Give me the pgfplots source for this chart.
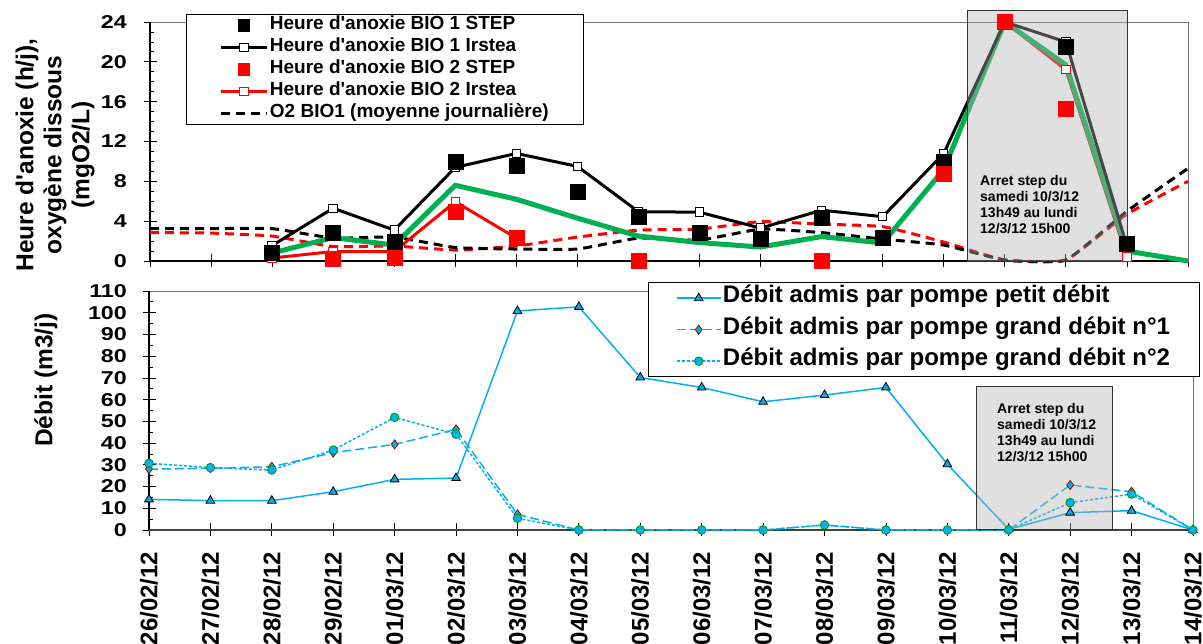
\documentclass[border=0pt]{standalone}
\usepackage{pgfplots}
\pgfplotsset{compat=1.18}
\usepackage{fontspec}
\setmainfont{Liberation Sans}
\newfontfamily\tickfont[FakeStretch=1.25]{Liberation Sans Bold}
\definecolor{vert}{HTML}{00B050}
\definecolor{bleu}{HTML}{00B0F0}
\definecolor{bleumark}{HTML}{12A6DE}
\definecolor{bordeaux}{HTML}{A00000}
\definecolor{vertc}{HTML}{009A00}

\pgfplotsset{
  commun/.style={
    scale only axis, xmin=0, xmax=17, clip=false,
    unbounded coords=jump,
    axis line style={draw=black!55, line width=0.8pt},
    tick pos=left, tick align=center,
    major tick length=13pt, minor tick length=4pt,
    tick style={black, line width=0.8pt},
    minor y tick style={xshift=2pt},
    xtick={0,...,17},
    yticklabels={},
  },
}
\tikzset{etiq/.style={anchor=east, inner sep=0pt, font=\tickfont\fontsize{18.6}{20}\selectfont}}

\begin{document}
\begin{tikzpicture}
\path[use as bounding box] (0pt,0pt) rectangle (1203pt,644pt);

% ---- graphe du haut : heures d'anoxie et O2
\begin{axis}[commun,
  at={(150pt,383pt)}, anchor=south west, width=1038pt, height=239pt,
  ymin=0, ymax=24, ytick={0,4,...,24}, minor y tick num=3,
  xticklabels={},
  legend image code/.code={\draw[mark repeat=2,mark phase=2,#1] plot coordinates {(0pt,0pt) (23pt,0pt) (46pt,0pt)};},
  legend style={at={(0.0347,1.0335)}, anchor=north west, draw=black, line width=0.9pt, fill=white,
    font=\fontsize{19}{21}\selectfont\bfseries, inner xsep=33pt, inner ysep=0pt,
    nodes={inner sep=1.5pt, text height=14pt, text depth=5pt}},
  legend cell align=left,
]
\draw[black, line width=1.6pt] (axis cs:0,24) -- (axis cs:0,0) -- (axis cs:17,0);
\pgfplotsinvokeforeach{0,4,8,12,16,20,24}{\node[etiq] at ([xshift=-23pt]axis cs:0,#1) {#1};}

% O2 BIO2 (pointilles rouges)
\addplot[red, line width=3pt, dash pattern=on 9pt off 6pt, smooth, tension=0.25, forget plot] coordinates {
(0,2.85) (1,2.8) (2,2.5) (3,1.45) (4,1.5) (5,1.1) (6,1.5) (7,2.4) (8,3.1) (9,3.2)
(10,3.95) (11,3.7) (12,3.45) (13,1.9) (14,0.1) (15,0.1) (16,4.7) (17,8.0)};
% O2 BIO1 (pointilles noirs)
\addplot[black, line width=3pt, dash pattern=on 9pt off 6pt, smooth, tension=0.25, forget plot] coordinates {
(0,3.25) (1,3.25) (2,3.25) (3,2.3) (4,2.4) (5,1.35) (6,1.2) (7,1.2) (8,2.3) (9,2.1)
(10,3.2) (11,2.85) (12,2.2) (13,1.6) (14,0.1) (15,0.1) (16,5.0) (17,9.3)};
% BIO 2 Irstea
\addplot[red, line width=3pt, mark=square*, mark size=4.2pt, mark options={fill=white, line width=1pt}, forget plot] coordinates {
(2,0.3) (3,0.95) (4,0.95) (5,5.95) (6,2.3) (7,nan) (13,9.2) (14,24) (15,19.2) (16,0.4)};
% courbe verte
\addplot[vert, line width=5pt, forget plot] coordinates {
(2,0.8) (3,2.35) (4,1.6) (5,7.6) (6,6.2) (7,4.3) (8,2.5) (9,1.85) (10,1.4)
(11,2.45) (12,1.8) (13,9.2) (14,24) (15,19.7) (16,1.0) (17,0)};
% BIO 1 Irstea
\addplot[black, line width=3pt, mark=square*, mark size=4.2pt, mark options={fill=white, line width=1pt}, forget plot] coordinates {
(2,1.55) (3,5.3) (4,3.1) (5,9.4) (6,10.8) (7,9.5) (8,4.95) (9,4.9) (10,3.3)
(11,5.1) (12,4.45) (13,10.8) (14,24) (15,22.0) (16,1.5)};
% BIO 1 STEP
\addplot[black, only marks, mark=square*, mark size=7.5pt, forget plot] coordinates {
(2,0.85) (3,2.8) (4,1.95) (5,10.0) (6,9.6) (7,6.95) (8,4.45) (9,2.8) (10,2.2)
(11,4.3) (12,2.3) (13,9.95) (14,24) (15,21.5) (16,1.7)};
% BIO 2 STEP
\addplot[red, only marks, mark=square*, mark size=7.5pt, forget plot] coordinates {
(3,0.2) (4,0.35) (5,4.95) (6,2.3) (8,0.05) (11,0.05) (13,8.8) (14,24) (15,15.3)};

\fill[black!30, fill opacity=0.4] (axis cs:13.38,0) rectangle (axis cs:16,25.2);
\draw[black!80, line width=0.8pt] (axis cs:13.38,0) rectangle (axis cs:16,25.2);

\addlegendimage{black, only marks, mark=square*, mark size=5.7pt}
\addlegendentry{Heure d\textquotesingle anoxie BIO 1 STEP}
\addlegendimage{black, line width=3pt, mark=square*, mark size=4.2pt, mark options={fill=white, line width=1pt}}
\addlegendentry{Heure d\textquotesingle anoxie BIO 1 Irstea}
\addlegendimage{red, only marks, mark=square*, mark size=5.7pt}
\addlegendentry{Heure d\textquotesingle anoxie BIO 2 STEP}
\addlegendimage{red, line width=3pt, mark=square*, mark size=4.2pt, mark options={fill=white, line width=1pt}}
\addlegendentry{Heure d\textquotesingle anoxie BIO 2 Irstea}
\addlegendimage{black, line width=3pt, dash pattern=on 9pt off 6pt}
\addlegendentry{O2 BIO1 (moyenne journalière)}
\end{axis}

% ---- graphe du bas : debits
\begin{axis}[commun,
  at={(149pt,114pt)}, anchor=south west, width=1044pt, height=239pt,
  ymin=0, ymax=110, ytick={0,10,...,110}, minor y tick num=1,
  xticklabels={26/02/12,27/02/12,28/02/12,29/02/12,01/03/12,02/03/12,03/03/12,04/03/12,05/03/12,06/03/12,07/03/12,08/03/12,09/03/12,10/03/12,11/03/12,12/03/12,13/03/12,14/03/12},
  xticklabel style={font=\fontsize{24}{26}\selectfont\bfseries, rotate=90, anchor=east, inner xsep=15pt, inner ysep=0pt},
  legend image code/.code={\draw[mark repeat=2,mark phase=2,#1] plot coordinates {(0pt,0pt) (22pt,0pt) (44pt,0pt)};},
  legend style={at={(0.478,1.0377)}, anchor=north west, draw=black, line width=0.9pt, fill=white,
    font=\fontsize{24}{26}\selectfont\bfseries, inner xsep=27.5pt, inner ysep=0pt,
    nodes={inner sep=1.5pt, text height=19pt, text depth=9.5pt}},
  legend cell align=left,
]
\draw[black, line width=1.6pt] (axis cs:0,110) -- (axis cs:0,0);
\draw[black!75, line width=2pt] (axis cs:0,0) -- (axis cs:17,0);
\pgfplotsinvokeforeach{0,10,20,30,40,50,60,70,80,90,100,110}{\node[etiq] at ([xshift=-22pt]axis cs:0,#1) {#1};}

\addplot[bleu, line width=1.5pt, mark=triangle*, mark size=5pt, mark options={fill=bleumark, draw=black, line width=0.8pt}] coordinates {
(0,14.1) (1,13.5) (2,13.5) (3,17.6) (4,23.3) (5,23.9) (6,100.8) (7,102.7) (8,70.2)
(9,65.6) (10,59.0) (11,62.1) (12,65.6) (13,30.3) (14,0.3) (15,8.0) (16,8.9) (17,0)};
\addlegendentry{Débit admis par pompe petit débit}
\addplot[bleu, line width=1.5pt, dash pattern=on 9pt off 4pt, mark=diamond*, mark size=4.5pt, mark options={solid, fill=bleu, draw=bordeaux, line width=0.8pt}] coordinates {
(0,28.0) (1,28.4) (2,29.1) (3,35.6) (4,39.4) (5,46.3) (6,7.2) (7,0) (8,0)
(9,0) (10,0) (11,2.3) (12,0) (13,0) (14,0) (15,20.7) (16,17.6) (17,0)};
\addlegendentry{Débit admis par pompe grand débit n°1}
\addplot[bleu, line width=1.5pt, dash pattern=on 3pt off 2pt, mark=*, mark size=4.3pt, mark options={solid, fill=bleu, draw=vertc, line width=0.8pt}] coordinates {
(0,30.7) (1,28.7) (2,27.6) (3,36.8) (4,51.8) (5,44.1) (6,5.4) (7,0) (8,0)
(9,0) (10,0) (11,2.3) (12,0) (13,0) (14,0) (15,12.6) (16,16.5) (17,0)};
\addlegendentry{Débit admis par pompe grand débit n°2}

\fill[black!30, fill opacity=0.4] (axis cs:13.47,0.3) rectangle (axis cs:15.69,66);
\draw[black!80, line width=0.8pt] (axis cs:13.47,0.3) rectangle (axis cs:15.69,66);
\end{axis}

% titres des axes et annotations
\node[rotate=90, align=center, font=\fontsize{24.5}{28}\selectfont\bfseries] at (55pt,489pt)
  {Heure d\textquotesingle anoxie (h/j),\\oxygène dissous\\(mgO2/L)};
\node[rotate=90, font=\fontsize{24.5}{28}\selectfont\bfseries] at (46pt,264pt) {Débit (m3/j)};
\node[anchor=north west, inner sep=0pt, align=left, font=\fontsize{14}{16}\selectfont\bfseries] at (980pt,469pt)
  {Arret step du\\samedi 10/3/12\\13h49 au lundi\\12/3/12 15h00};
\node[anchor=north west, inner sep=0pt, align=left, font=\fontsize{14}{16}\selectfont\bfseries] at (997pt,241pt)
  {Arret step du\\samedi 10/3/12\\13h49 au lundi\\12/3/12 15h00};
\end{tikzpicture}
\end{document}
